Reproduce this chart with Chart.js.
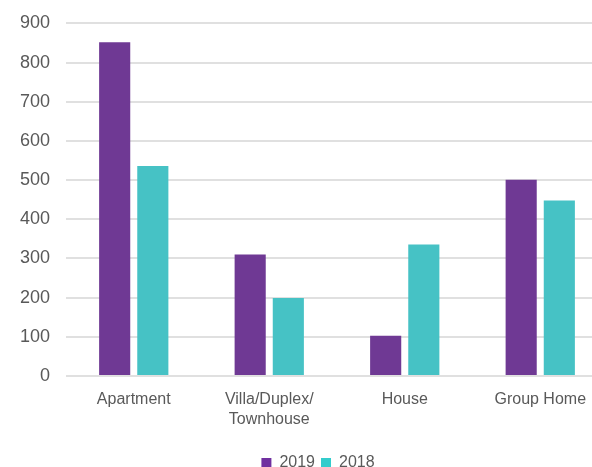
<!DOCTYPE html>
<html>
<head>
<meta charset="utf-8">
<script src="https://cdn.jsdelivr.net/npm/chart.js@4.4.1/dist/chart.umd.min.js"></script>
<style>
    html, body { margin: 0; padding: 0; background: #fff; overflow: hidden; }
    #wrap { width: 608px; height: 467px; position: relative; }
</style>
</head>
<body>
<div id="wrap"><canvas id="chartContainer"></canvas></div>
<script>
// カテゴリとデータ
const categories = ['Apartment', ['Villa/Duplex/', 'Townhouse'], 'House', 'Group Home'];
const values2019 = [852, 310, 103, 501];
const values2018 = [536, 199, 336, 448];
const yTicks = { min: 0, max: 900, step: 100 };

// 色の設定
const purple = '#6F3994';
const teal = '#46C2C5';
const legendColors = ['#7030A0', '#33CCCC'];
const textColor = '#595959';
const fontFamily = 'Liberation Sans, Arial, sans-serif';

// 凡例の位置を微調整
const legendShift = {
    id: 'legendShift',
    afterLayout(c) {
        if (c.legend) {
            c.legend.left += 14;
            c.legend.right += 14;
            c.legend.top += 14;
            c.legend.bottom += 14;
        }
    }
};

const ctx = document.getElementById('chartContainer').getContext('2d');

const chart = new Chart(ctx, {
    type: 'bar',
    data: {
        labels: categories,
        datasets: [
            { label: '2019', data: values2019, backgroundColor: purple },
            { label: '2018', data: values2018, backgroundColor: teal }
        ]
    },
    plugins: [legendShift],
    options: {
        responsive: true,
        maintainAspectRatio: false,
        animation: false,
        categoryPercentage: 0.563,
        barPercentage: 0.816,
        layout: { padding: { top: 0, right: 0, bottom: 0, left: 0 } },
        scales: {
            x: {
                afterFit: scale => { scale.height = 59; },
                grid: { display: false },
                border: { display: false },
                ticks: {
                    color: textColor,
                    font: { family: fontFamily, size: 16, lineHeight: 1.25 },
                    maxRotation: 0,
                    autoSkip: false,
                    padding: 6
                }
            },
            y: {
                min: yTicks.min,
                max: yTicks.max,
                afterFit: scale => { scale.width = 66; },
                grid: { color: '#E0E0E0', lineWidth: 2, drawTicks: false },
                border: { display: false },
                ticks: {
                    stepSize: yTicks.step,
                    color: textColor,
                    padding: 16,
                    font: { family: fontFamily, size: 18, lineHeight: 0.833 }
                }
            }
        },
        plugins: {
            legend: {
                position: 'bottom',
                labels: {
                    color: textColor,
                    boxWidth: 10,
                    boxHeight: 10,
                    padding: 6,
                    font: { family: fontFamily, size: 16 },
                    generateLabels: c => c.data.datasets.map((ds, i) => ({
                        text: ds.label,
                        fillStyle: legendColors[i],
                        strokeStyle: legendColors[i],
                        lineWidth: 0,
                        fontColor: textColor,
                        datasetIndex: i
                    }))
                }
            },
            tooltip: { enabled: false }
        }
    }
});
</script>
</body>
</html>
